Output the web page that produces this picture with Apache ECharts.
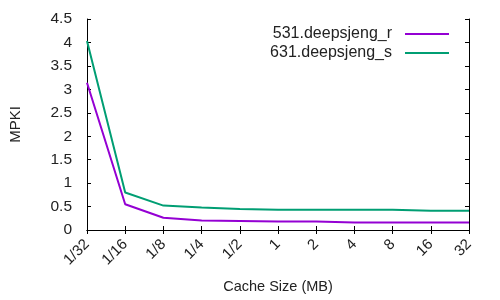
<!DOCTYPE html>
<html>
<head>
<meta charset="utf-8">
<script src="https://cdn.jsdelivr.net/npm/echarts@6/dist/echarts.min.js"></script>
<style>html,body{margin:0;padding:0;background:#fff}#c{width:500px;height:300px}</style>
</head>
<body>
<div id="c"></div>
<script>
const categories = ['1/32','1/16','1/8','1/4','1/2','1','2','4','8','16','32'];
const seriesNames = ['531.deepsjeng_r','631.deepsjeng_s'];
const deepsjengR = [3.14, 0.55, 0.26, 0.20, 0.19, 0.18, 0.18, 0.16, 0.16, 0.16, 0.16];
const deepsjengS = [4.03, 0.80, 0.52, 0.48, 0.45, 0.43, 0.43, 0.43, 0.43, 0.41, 0.41];
const yMin = 0, yMax = 4.5, yStep = 0.5;

const font = "'Liberation Sans', Arial, sans-serif";
const chart = echarts.init(document.getElementById('c'));
const tickStyle = {show: true, inside: true, length: 4, lineStyle: {color: '#000', width: 1}};
const lineAx = {show: true, lineStyle: {color: '#000', width: 1}};
const legendBase = {
  orient: 'vertical', align: 'right', right: 51, padding: 0, itemWidth: 44, itemHeight: 10,
  icon: 'path://M0,4L44,4L44,6L0,6Z',
  textStyle: {fontFamily: font, fontSize: 16, color: '#222', padding: [0, 8, 0, 0]},
  selectedMode: false
};
chart.setOption({
  animation: false,
  grid: {left: 85, right: 31, top: 19, bottom: 70},
  legend: [
    Object.assign({}, legendBase, {top: 26, data: [seriesNames[0]]}),
    Object.assign({}, legendBase, {top: 45, data: [seriesNames[1]]})
  ],
  xAxis: [
    {type: 'category', data: categories, boundaryGap: false, position: 'bottom',
     name: 'Cache Size (MB)', nameLocation: 'middle', nameGap: 49,
     nameTextStyle: {fontFamily: font, fontSize: 14.5, color: '#222'},
     axisLine: lineAx, axisTick: Object.assign({alignWithLabel: true}, tickStyle),
     axisLabel: {rotate: 45, margin: 12, fontFamily: font, fontSize: 15, color: '#222', interval: 0},
     splitLine: {show: false}},
    {type: 'category', data: categories, boundaryGap: false, position: 'top',
     axisLine: lineAx, axisTick: tickStyle, axisLabel: {show: false}, splitLine: {show: false}}
  ],
  yAxis: [
    {type: 'value', min: yMin, max: yMax, interval: yStep, position: 'left',
     name: 'MPKI', nameLocation: 'middle', nameGap: 64, nameRotate: 90,
     nameTextStyle: {fontFamily: font, fontSize: 15, color: '#222'},
     axisLine: lineAx, axisTick: tickStyle,
     axisLabel: {margin: 15, fontFamily: font, fontSize: 15.5, color: '#222'},
     splitLine: {show: false}},
    {type: 'value', min: yMin, max: yMax, interval: yStep, position: 'right',
     axisLine: lineAx, axisTick: tickStyle, axisLabel: {show: false}, splitLine: {show: false}}
  ],
  series: [
    {name: seriesNames[0], type: 'line', data: deepsjengR, symbol: 'none',
     lineStyle: {color: '#9400d3', width: 2}, itemStyle: {color: '#9400d3'}},
    {name: seriesNames[1], type: 'line', data: deepsjengS, symbol: 'none',
     lineStyle: {color: '#009e73', width: 2}, itemStyle: {color: '#009e73'}}
  ]
});
</script>
</body>
</html>
